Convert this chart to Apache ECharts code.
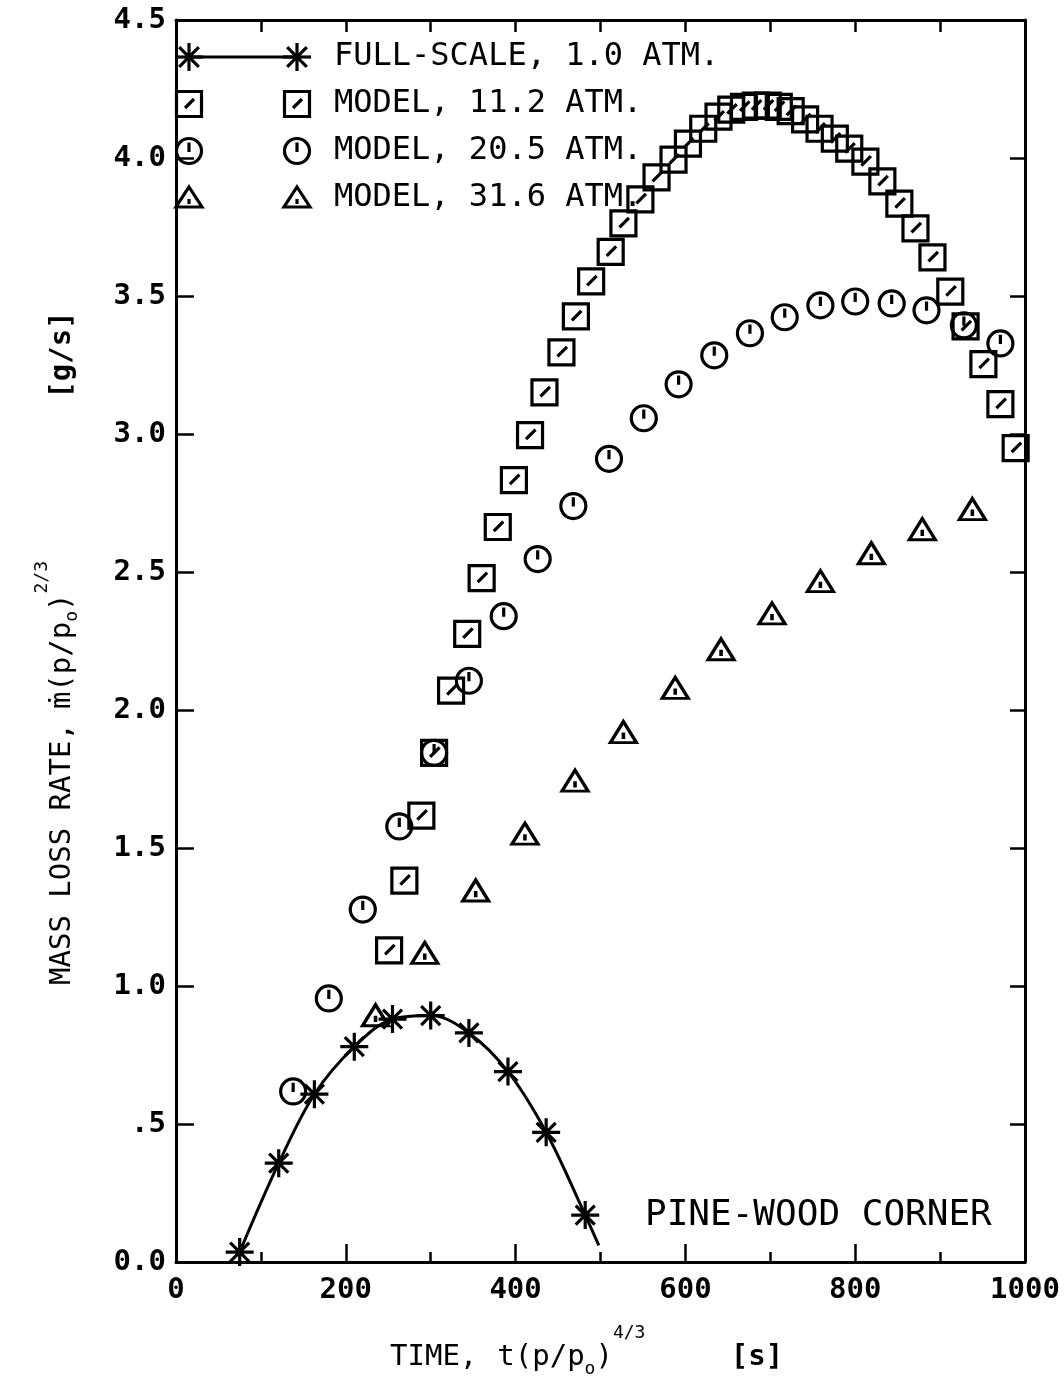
<!DOCTYPE html>
<html>
<head>
<meta charset="utf-8">
<script src="https://cdn.jsdelivr.net/npm/echarts@6/dist/echarts.min.js"></script>
<style>
  html, body { margin: 0; padding: 0; background: #fff; }
  #chart { width: 1064px; height: 1395px; }
</style>
</head>
<body>
<div id="chart"></div>
<script>
// ---- data: time t(p/p0)^(4/3) [s], mass loss rate m(p/p0)^(2/3) [g/s] ----
const seriesNames = ['FULL-SCALE, 1.0 ATM.', 'MODEL, 11.2 ATM.', 'MODEL, 20.5 ATM.', 'MODEL, 31.6 ATM.'];

const fullScale = [
  [75, 0.036], [121, 0.358], [163, 0.608], [210, 0.78], [255, 0.88],
  [300, 0.893], [345, 0.83], [391, 0.69], [436, 0.47], [482, 0.17]
];
// smooth fitted curve through the full-scale points, running on to its end
const fullScaleCurve = [
  [75, 0.036], [121, 0.358], [163, 0.608], [210, 0.78], [255, 0.88],
  [300, 0.893], [345, 0.83], [391, 0.69], [436, 0.47], [482, 0.17], [498, 0.06]
];

const model112 = [
  [251, 1.129], [269, 1.382], [289, 1.617], [304, 1.845], [324, 2.07],
  [343, 2.276], [360, 2.478], [379, 2.663], [398, 2.833], [417, 2.996],
  [434, 3.151], [454, 3.296], [471, 3.426], [489, 3.553], [512, 3.66],
  [527, 3.763], [547, 3.85], [566, 3.93], [586, 3.994], [603, 4.052],
  [621, 4.106], [639, 4.15], [654, 4.175], [669, 4.185], [683, 4.19],
  [697, 4.19], [710, 4.185], [724, 4.17], [741, 4.14], [758, 4.106],
  [776, 4.07], [793, 4.034], [812, 3.987], [832, 3.915], [852, 3.835],
  [871, 3.745], [891, 3.64], [912, 3.516], [930, 3.39], [951, 3.253],
  [971, 3.108], [989, 2.949]
];

const model205 = [
  [138, 0.618], [180, 0.955], [220, 1.277], [263, 1.578], [304, 1.845],
  [345, 2.106], [386, 2.34], [426, 2.547], [468, 2.739], [510, 2.91],
  [551, 3.057], [592, 3.18], [634, 3.285], [676, 3.365], [717, 3.423],
  [759, 3.466], [800, 3.48], [843, 3.473], [884, 3.448], [928, 3.394],
  [971, 3.328]
];

const model316 = [
  [235, 0.894], [293, 1.12], [353, 1.346], [411, 1.552], [470, 1.744],
  [527, 1.92], [588, 2.08], [642, 2.22], [702, 2.35], [759, 2.467],
  [819, 2.568], [879, 2.655], [938, 2.728]
];

const xTickLabels = ['0', '200', '400', '600', '800', '1000'];
const yTickLabels = ['0.0', '.5', '1.0', '1.5', '2.0', '2.5', '3.0', '3.5', '4.0', '4.5'];
const annotation = 'PINE-WOOD CORNER';

// ---- styling ----
const FONT = "'DejaVu Sans Mono', 'Liberation Mono', monospace";
const INK = '#000';
const GRID = { left: 176, top: 20, right: 39, bottom: 133 };

// plotter-style marker shapes
const SYM = {
  star: 'path://M5,0L5,10M0,5L10,5M1.6,1.6L8.4,8.4M8.4,1.6L1.6,8.4',
  square: 'path://M0,0L10,0L10,10L0,10ZM3.4,6.6L7.2,2.8',
  circle: 'path://M5,0A5,5,0,1,1,5,10A5,5,0,1,1,5,0ZM5,1.5L5,5.2',
  triangle: 'path://M5,0L10,8L0,8ZM5,4.2L5,6.6'
};

const markerStyle = { color: 'rgba(0,0,0,0)', borderColor: INK, borderWidth: 3.2, opacity: 1 };

// text measuring for the composed axis titles
const measureCtx = document.createElement('canvas').getContext('2d');
function textWidth(t, size, weight) {
  measureCtx.font = (weight || 'normal') + ' ' + size + 'px ' + FONT;
  return measureCtx.measureText(t).width;
}
function chain(pieces) {
  let x = 0;
  const out = [];
  pieces.forEach(p => {
    x += p.gap || 0;
    out.push({
      type: 'text',
      x: x, y: p.dy || 0,
      style: {
        text: p.t, fill: INK, fontSize: p.s, fontFamily: FONT, fontWeight: p.w || 'normal',
        align: 'left', verticalAlign: 'middle'
      }
    });
    x += textWidth(p.t, p.s, p.w);
  });
  return out;
}

// legend glyphs drawn as simple shapes
function glyph(kind, cx, cy) {
  const st = { stroke: INK, lineWidth: 3.2, fill: 'none' };
  const h = 12.5;
  if (kind === 'star') {
    const r = 14, d = r * 0.7;
    return [
      { type: 'line', shape: { x1: cx, y1: cy - r, x2: cx, y2: cy + r }, style: st },
      { type: 'line', shape: { x1: cx - r, y1: cy, x2: cx + r, y2: cy }, style: st },
      { type: 'line', shape: { x1: cx - d, y1: cy - d, x2: cx + d, y2: cy + d }, style: st },
      { type: 'line', shape: { x1: cx + d, y1: cy - d, x2: cx - d, y2: cy + d }, style: st }
    ];
  }
  if (kind === 'square') {
    return [
      { type: 'rect', shape: { x: cx - h, y: cy - h, width: 2 * h, height: 2 * h }, style: st },
      { type: 'line', shape: { x1: cx - 4, y1: cy + 4, x2: cx + 5, y2: cy - 5 }, style: st }
    ];
  }
  if (kind === 'circle') {
    return [
      { type: 'circle', shape: { cx: cx, cy: cy, r: h }, style: st },
      { type: 'line', shape: { x1: cx, y1: cy - h + 4, x2: cx, y2: cy + 1 }, style: st }
    ];
  }
  return [
    { type: 'polygon', shape: { points: [[cx, cy - 11], [cx + 13, cy + 9], [cx - 13, cy + 9]] }, style: st },
    { type: 'line', shape: { x1: cx, y1: cy + 1, x2: cx, y2: cy + 6 }, style: st }
  ];
}

const legendRows = [
  { kind: 'star', y: 57 },
  { kind: 'square', y: 104 },
  { kind: 'circle', y: 151 },
  { kind: 'triangle', y: 198 }
];
const legendEls = [];
legendEls.push({ type: 'line', shape: { x1: 189, y1: 57, x2: 297, y2: 57 }, style: { stroke: INK, lineWidth: 3 } });
legendRows.forEach((r, i) => {
  legendEls.push(...glyph(r.kind, 189, r.y));
  legendEls.push(...glyph(r.kind, 297, r.y));
  legendEls.push({
    type: 'text', x: 334, y: r.y,
    style: { text: seriesNames[i], fill: INK, fontSize: 32, fontFamily: FONT, align: 'left', verticalAlign: 'middle' }
  });
});

const yTitle = {
  type: 'group', x: 62, y: 985, rotation: Math.PI / 2,
  children: chain([
    { t: 'MASS LOSS RATE,', s: 29 },
    { t: '\u1E41', s: 29, gap: 14 },
    { t: '(p/p', s: 29 },
    { t: 'o', s: 18, dy: 10 },
    { t: ')', s: 29 },
    { t: '2/3', s: 18, dy: -20 }
  ]).concat([{
    type: 'text', x: 630, y: 0,
    style: { text: '[g/s]', fill: INK, fontSize: 29, fontFamily: FONT, fontWeight: 'bold', align: 'center', verticalAlign: 'middle' }
  }])
};

const xTitle = {
  type: 'group', x: 390, y: 1357,
  children: chain([
    { t: 'TIME,', s: 29 },
    { t: 't', s: 29, gap: 20 },
    { t: '(p/p', s: 29 },
    { t: 'o', s: 18, dy: 12 },
    { t: ')', s: 29 },
    { t: '4/3', s: 18, dy: -24 }
  ]).concat([{
    type: 'text', x: 367, y: 0,
    style: { text: '[s]', fill: INK, fontSize: 29, fontFamily: FONT, fontWeight: 'bold', align: 'center', verticalAlign: 'middle' }
  }])
};

const axisLine = { show: true, onZero: false, lineStyle: { color: INK, width: 3 } };
const tickLine = { color: INK, width: 2.5 };
const labelStyle = { color: INK, fontSize: 29, fontFamily: FONT, fontWeight: 'bold' };

const option = {
  animation: false,
  backgroundColor: '#fff',
  grid: GRID,
  xAxis: [
    {
      type: 'value', position: 'bottom', min: 0, max: 1000, interval: 200,
      axisLine: axisLine,
      axisTick: { show: true, inside: true, length: 18, lineStyle: tickLine },
      minorTick: { show: true, splitNumber: 2, length: 10, lineStyle: tickLine },
      splitLine: { show: false }, minorSplitLine: { show: false },
      axisLabel: Object.assign({ margin: 14, formatter: v => xTickLabels[Math.round(v / 200)] }, labelStyle)
    },
    {
      type: 'value', position: 'top', min: 0, max: 1000, interval: 100,
      axisLine: axisLine,
      axisTick: { show: true, inside: true, length: 12, lineStyle: tickLine },
      splitLine: { show: false }, axisLabel: { show: false }
    }
  ],
  yAxis: [
    {
      type: 'value', position: 'left', min: 0, max: 4.5, interval: 0.5,
      axisLine: axisLine,
      axisTick: { show: true, inside: true, length: 18, lineStyle: tickLine },
      splitLine: { show: false },
      axisLabel: Object.assign({ margin: 10, formatter: v => yTickLabels[Math.round(v / 0.5)] }, labelStyle)
    },
    {
      type: 'value', position: 'right', min: 0, max: 4.5, interval: 0.5,
      axisLine: axisLine,
      axisTick: { show: true, inside: true, length: 15, lineStyle: tickLine },
      splitLine: { show: false }, axisLabel: { show: false }
    }
  ],
  series: [
    {
      name: seriesNames[3], type: 'scatter', data: model316,
      symbol: SYM.triangle, symbolSize: [26, 21], itemStyle: markerStyle, silent: true, z: 2
    },
    {
      name: seriesNames[2], type: 'scatter', data: model205,
      symbol: SYM.circle, symbolSize: 25, itemStyle: markerStyle, silent: true, z: 3
    },
    {
      name: seriesNames[1], type: 'scatter', data: model112,
      symbol: SYM.square, symbolSize: 25, itemStyle: markerStyle, silent: true, z: 4
    },
    {
      name: seriesNames[0] + ' fit', type: 'line', data: fullScaleCurve,
      smooth: 0.35, showSymbol: false, symbol: 'none',
      lineStyle: { color: INK, width: 3 }, silent: true, z: 5
    },
    {
      name: seriesNames[0], type: 'scatter', data: fullScale,
      symbol: SYM.star, symbolSize: 28, itemStyle: markerStyle, silent: true, z: 6
    }
  ],
  graphic: legendEls.concat([
    yTitle,
    xTitle,
    {
      type: 'text', x: 645, y: 1216,
      style: { text: annotation, fill: INK, fontSize: 36, fontFamily: FONT, align: 'left', verticalAlign: 'middle' }
    }
  ])
};

const chart = echarts.init(document.getElementById('chart'), null, { renderer: 'canvas' });
chart.setOption(option);
</script>
</body>
</html>
